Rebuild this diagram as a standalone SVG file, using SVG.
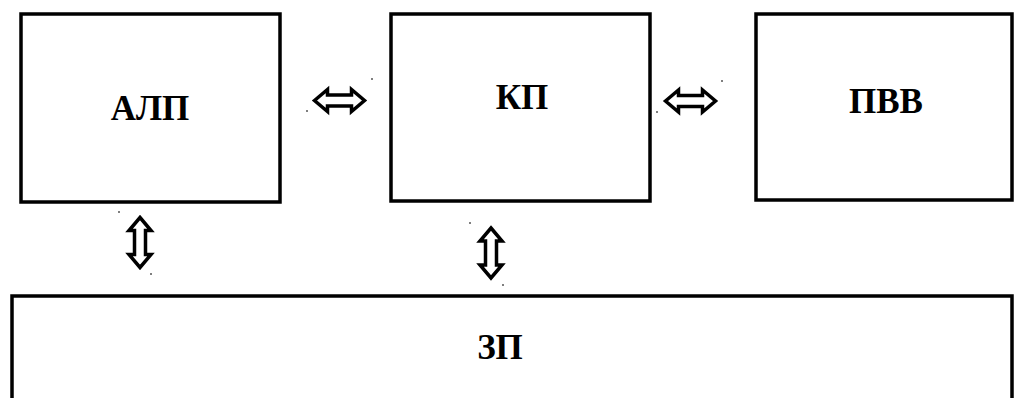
<svg xmlns="http://www.w3.org/2000/svg" width="1015" height="398" viewBox="0 0 1015 398">
  <defs>
    <style>
      .box { fill: #ffffff; stroke: #000000; stroke-width: 3.5; }
      .label { font-family: "Liberation Serif", "Times New Roman", serif; font-weight: bold; font-size: 35px; fill: #000000; text-anchor: middle; }
      .arrow { fill: #ffffff; stroke: #000000; stroke-width: 3.5; stroke-linejoin: miter; }
      .dot { fill: #555555; }
    </style>
    <!-- double-headed block arrow, horizontal, centred on the origin -->
    <path id="dblArrow" d="M -25,0 L -12,-11 L -12,-5.5 L 12,-5.5 L 12,-11 L 25,0 L 12,11 L 12,5.5 L -12,5.5 L -12,11 Z"/>
  </defs>

  <rect width="1015" height="398" fill="#ffffff"/>

  <g id="node-alp">
    <rect class="box" x="21" y="14" width="259" height="188"/>
    <text class="label" x="150" y="120">АЛП</text>
  </g>

  <g id="node-kp">
    <rect class="box" x="391" y="14" width="259" height="187"/>
    <text class="label" x="522" y="109">КП</text>
  </g>

  <g id="node-pvv">
    <rect class="box" x="756" y="14" width="256" height="186"/>
    <text class="label" x="886" y="113">ПВВ</text>
  </g>

  <g id="node-zp">
    <rect class="box" x="12" y="296" width="1000" height="120"/>
    <text class="label" x="500" y="359">ЗП</text>
  </g>

  <g id="connectors">
    <use href="#dblArrow" class="arrow" transform="translate(339.5,100.5)"/>
    <use href="#dblArrow" class="arrow" transform="translate(690.5,101)"/>
    <use href="#dblArrow" class="arrow" transform="translate(140,242.5) rotate(90)"/>
    <use href="#dblArrow" class="arrow" transform="translate(491,253) rotate(90)"/>
    <!-- corner handles left around each arrow -->
    <circle class="dot" cx="307" cy="111" r="1"/>
    <circle class="dot" cx="372" cy="79" r="1"/>
    <circle class="dot" cx="657" cy="112" r="1"/>
    <circle class="dot" cx="722" cy="81" r="1"/>
    <circle class="dot" cx="119" cy="212" r="1"/>
    <circle class="dot" cx="151" cy="274" r="1"/>
    <circle class="dot" cx="470" cy="223" r="1"/>
    <circle class="dot" cx="503" cy="285" r="1"/>
  </g>
</svg>
